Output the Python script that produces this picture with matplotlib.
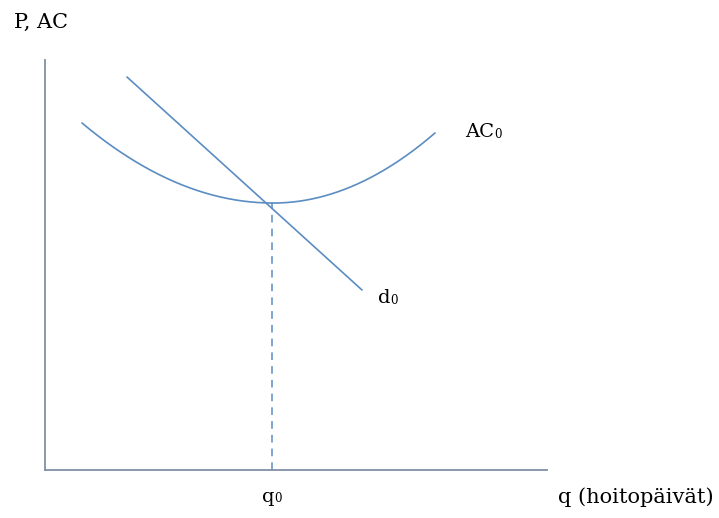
import matplotlib.pyplot as plt
import numpy as np

# AC curve points (q, price), origin at the axis corner
ac_left_q = [37, 80, 130, 180, 227]
ac_left_p = [347, 315, 288, 272, 267]
ac_right_q = [227, 280, 330, 365, 390]
ac_right_p = [267, 274, 295, 317, 337]
d_q = [82, 317]
d_p = [393, 180]
q0 = 227
p0 = 267

line_col = '#5b8cc2'
axis_col = '#8090a4'
serif = ['DejaVu Serif']

fig = plt.figure(figsize=(7.19, 5.18), dpi=100)
ax = fig.add_axes([0, 0, 1, 1])
ax.set_xlim(-45, 674)
ax.set_ylim(-48, 470)
ax.axis('off')

# AC curve, each branch smoothed through its points
for qs, ps in [(ac_left_q, ac_left_p), (ac_right_q, ac_right_p)]:
    c = np.polyfit(qs, ps, 2)
    t = np.linspace(qs[0], qs[-1], 200)
    ax.plot(t, np.polyval(c, t), color=line_col, lw=1.2, solid_capstyle='round')

# demand line
ax.plot(d_q, d_p, color=line_col, lw=1.2, solid_capstyle='round')

# dashed drop line to q0
ax.plot([q0, q0], [0, p0], color=line_col, lw=1.1, ls=(0, (5, 4)))

# axes
ax.plot([0, 0], [0, 410], color=axis_col, lw=1.3)
ax.plot([0, 502], [0, 0], color=axis_col, lw=1.3)

fs = 14
sub = 8.5
ax.text(-31, 448, 'P, AC', fontsize=15, family=serif, va='center', ha='left')
ax.text(420, 338, 'AC', fontsize=fs, family=serif, va='center', ha='left')
ax.text(449, 336, '0', fontsize=sub, family=serif, va='center', ha='left')
ax.text(333, 172, 'd', fontsize=fs, family=serif, va='center', ha='left')
ax.text(345, 170, '0', fontsize=sub, family=serif, va='center', ha='left')
ax.text(217, -27, 'q', fontsize=fs, family=serif, va='center', ha='left')
ax.text(229, -29, '0', fontsize=sub, family=serif, va='center', ha='left')
ax.text(513, -27, 'q (hoitopäivät)', fontsize=15, family=serif, va='center', ha='left')

fig.savefig('out.png', dpi=100)
